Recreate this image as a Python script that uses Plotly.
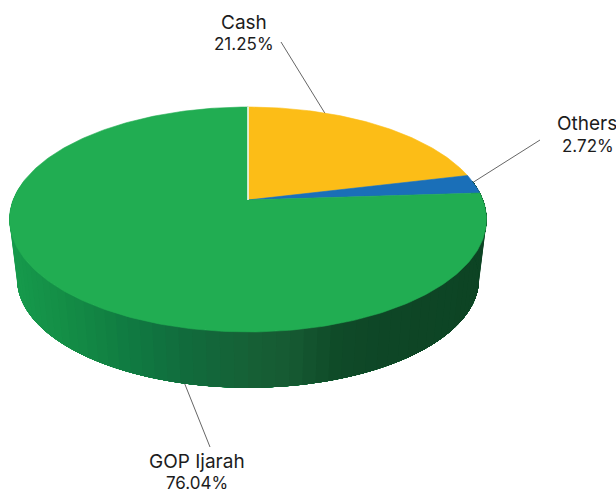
import numpy as np
import plotly.graph_objects as go

# Portfolio allocation, percent of total
categories = ["Cash", "Others", "GOP Ijarah"]
shares = [21.25, 2.72, 76.04]
slice_colors = ["#FCBD17", "#1A6FB8", "#21AD52"]

WIDTH, HEIGHT = 616, 493

# Perspective projection of the disc onto the page
APEX_X, TOP_Y, BOTTOM_Y = 248.0, 200.0, 260.0
TOP_RX, TOP_RY = 234.9, 109.1
BOTTOM_RX, BOTTOM_RY = 227.5, 105.6
TILT = 0.1733


def project(theta, rx, ry, y0, radius=1.0):
    u, v = np.sin(theta), np.cos(theta)
    scale = radius / (1 + TILT * v * radius)
    return APEX_X + rx * u * scale, y0 - ry * v * scale


def top_rim(theta):
    return project(theta, TOP_RX, TOP_RY, TOP_Y)


def bottom_rim(theta):
    return project(theta, BOTTOM_RX, BOTTOM_RY, BOTTOM_Y)


# Side wall shading, sampled along the page x position
shade_x = [10, 60, 130, 190, 250, 290, 340, 390, 487]
shade_r = [22, 20, 16, 17, 22, 22, 15, 14, 13]
shade_g = [154, 142, 122, 106, 96, 90, 74, 70, 68]
shade_b = [76, 70, 65, 60, 54, 50, 40, 38, 36]


def wall_color(x):
    r = np.interp(x, shade_x, shade_r)
    g = np.interp(x, shade_x, shade_g)
    b = np.interp(x, shade_x, shade_b)
    return f"rgb({r:.0f},{g:.0f},{b:.0f})"


fig = go.Figure()


def polygon(xs, ys, color, name, line_width=0.6):
    fig.add_trace(go.Scatter(
        x=list(xs), y=list(ys), mode="lines", fill="toself",
        fillcolor=color, line=dict(color=color, width=line_width),
        name=name, hoverinfo="name", showlegend=False,
    ))


def leader(xs, ys):
    fig.add_trace(go.Scatter(
        x=xs, y=ys, mode="lines", line=dict(color="#666666", width=1),
        hoverinfo="skip", showlegend=False,
    ))


# Leader lines sit beneath the pie
leader([281, 326], [42, 115])
leader([540, 472], [140, 183])
leader([210, 184], [447, 382])

# Slice boundaries in radians, clockwise from twelve o'clock
total = sum(shares)
edges = 2 * np.pi * np.concatenate([[0.0], np.cumsum(shares)]) / total

# Side wall, painted left to right so each band overlaps the next and no seams show
WALL_END = np.radians(80)
wall_steps = np.linspace(np.radians(280), WALL_END, 71)
for a, b in zip(wall_steps[:-1], wall_steps[1:]):
    arc = np.linspace(a, WALL_END, 90)
    tx, ty = top_rim(arc)
    bx, by = bottom_rim(arc[::-1])
    xs = np.concatenate([tx, bx, tx[:1]])
    ys = np.concatenate([ty, by, ty[:1]])
    mid_x = top_rim((a + b) / 2)[0]
    polygon(xs, ys, wall_color(mid_x), categories[2], line_width=0)

# Top face of the pie
for name, color, start, end in zip(categories, slice_colors, edges[:-1], edges[1:]):
    steps = np.linspace(start, end, max(int((end - start) * 60), 6))
    rx, ry = top_rim(steps)
    xs = np.concatenate([[APEX_X], rx, [APEX_X]])
    ys = np.concatenate([[TOP_Y], ry, [TOP_Y]])
    polygon(xs, ys, color, name)

# White seam on the opening edge of the first slice
sx, sy = top_rim(edges[0])
fig.add_trace(go.Scatter(
    x=[APEX_X, sx], y=[TOP_Y, sy], mode="lines",
    line=dict(color="#FFFFFF", width=1.5), hoverinfo="skip", showlegend=False,
))


def label(text, x, y, size, anchor="center"):
    return dict(x=x, y=y, xref="x", yref="y", xanchor=anchor, yanchor="middle",
                text=text, showarrow=False, align="center",
                font=dict(family="Inter, sans-serif", size=size, color="#1c1c1c"))


# Category names and their percentages
name_pos = [(244, 22, "center"), (555, 123, "left"), (197, 461, "center")]
value_pos = [(244, 44), (588, 146), (197, 482.5)]
annotations = []
for name, value, (nx, ny, anchor), (vx, vy) in zip(categories, shares, name_pos, value_pos):
    annotations.append(label(name, nx, ny, 19, anchor))
    annotations.append(label(f"{value:.2f}%", vx, vy, 17))

fig.update_layout(
    width=WIDTH, height=HEIGHT,
    margin=dict(l=0, r=0, t=0, b=0),
    paper_bgcolor="white", plot_bgcolor="white",
    xaxis=dict(range=[0, WIDTH], visible=False, fixedrange=True),
    yaxis=dict(range=[HEIGHT, 0], visible=False, fixedrange=True),
    annotations=annotations,
    showlegend=False,
)

fig.write_html("out.html")
